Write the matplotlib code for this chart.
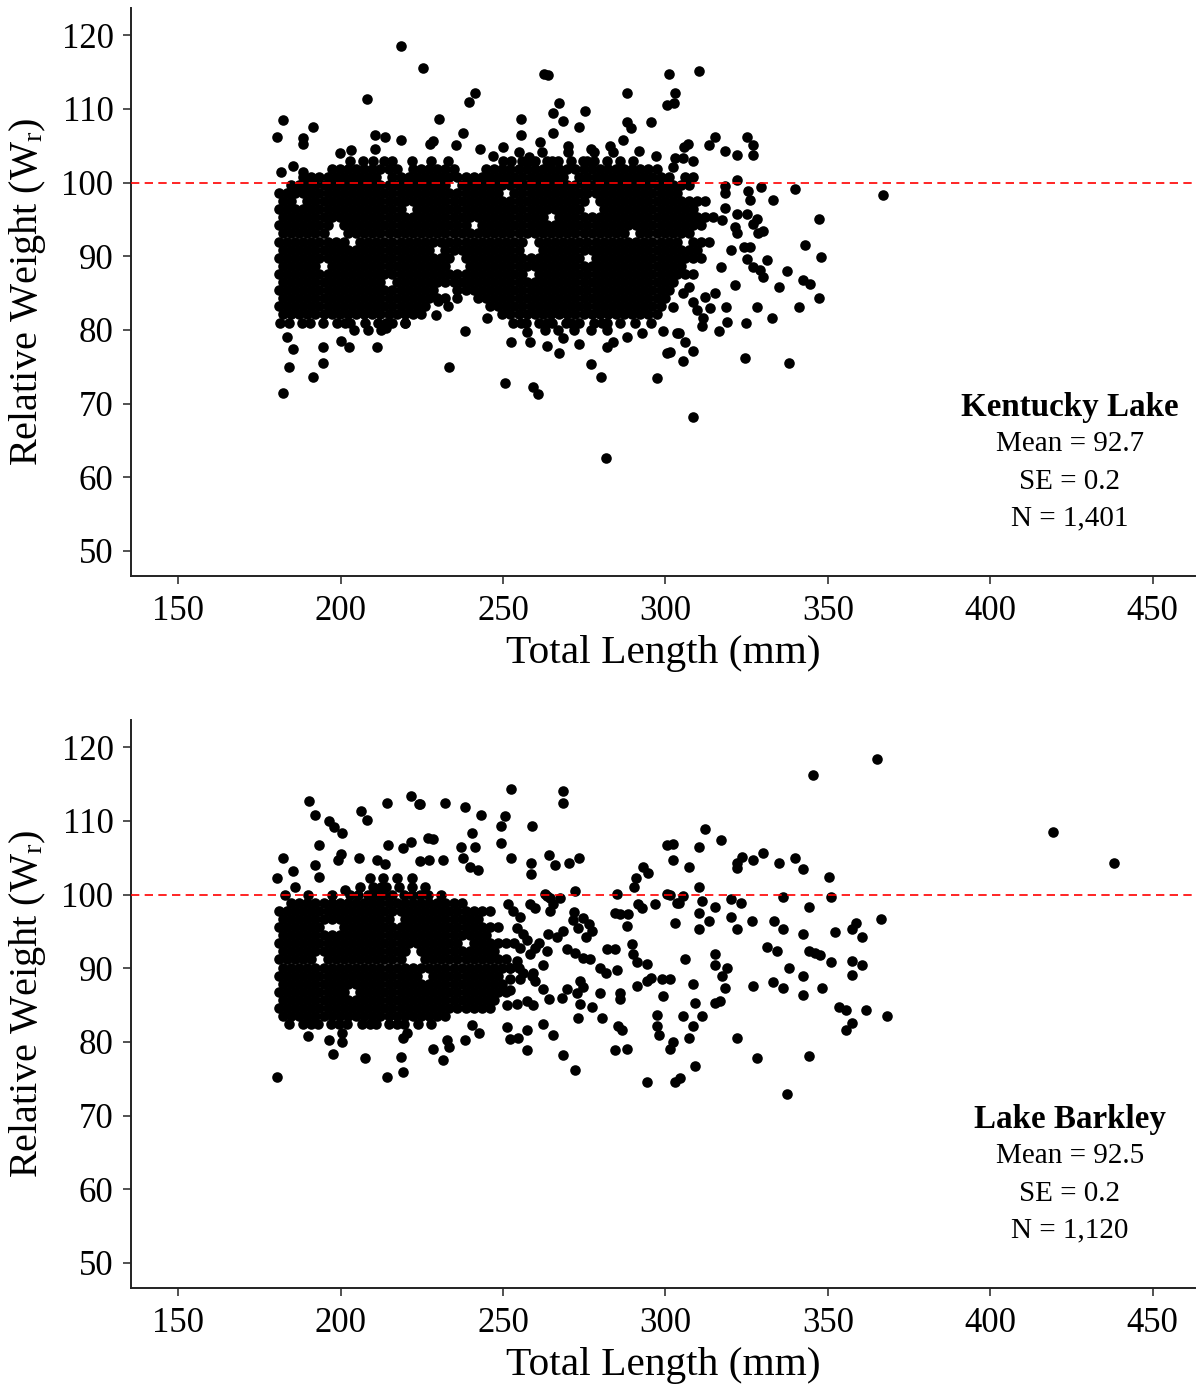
import matplotlib
matplotlib.use('Agg')
import matplotlib.pyplot as plt

plt.rcParams['font.family'] = 'Liberation Serif'
plt.rcParams['mathtext.fontset'] = 'custom'
plt.rcParams['mathtext.rm'] = 'Liberation Serif'
plt.rcParams['mathtext.it'] = 'Liberation Serif:italic'

# Data
x_ticks = [150, 200, 250, 300, 350, 400, 450]
y_ticks = [50, 60, 70, 80, 90, 100, 110, 120]

# --- Kentucky Lake: dense core, row by row (Wr level, lengths) ---
kl_row_wr = [80.0, 81.0, 82.1, 83.2, 84.3, 85.4, 86.5, 87.6, 88.7, 89.8, 90.9, 92.0,
             93.1, 94.2, 95.3, 96.4, 97.5, 98.6, 99.7, 100.8, 101.9, 103.0, 104.1]
kl_row_len = [
    [204, 208.5, 212.5, 263, 267, 272, 277, 282],
    [181.5, 184, 188, 190.5, 194.5, 199, 201.5, 203, 207.5, 211.5, 214, 216, 220, 253, 255.5, 257, 261, 263.5,
     265, 269.5, 271, 273.5, 278, 280.5, 282, 286, 290.5],
    [182.3, 184.8, 187.3, 189.8, 192.3, 194.8, 197.3, 199.8, 202.3, 204.8, 207.3, 209.8, 212.3, 214.8, 217.3,
     219.8, 222.3, 224.8, 249.8, 252.3, 254.8, 257.3, 259.8, 262.3, 264.8, 267.3, 269.8, 272.3, 274.8, 277.3,
     279.8, 282.3, 284.8, 287.3, 289.8, 292.3, 294.8, 297.3],
    [181, 183.5, 186, 188.5, 191, 193.5, 196, 198.5, 201, 203.5, 206, 208.5, 211, 213.5, 216, 218.5, 221, 223.5,
     226, 246, 248.5, 251, 253.5, 256, 258.5, 261, 263.5, 266, 268.5, 271, 273.5, 276, 278.5, 281, 283.5, 286,
     288.5, 291, 293.5, 296, 298.5],
    [182.3, 184.8, 187.3, 189.8, 192.3, 194.8, 197.3, 199.8, 202.3, 204.8, 207.3, 209.8, 212.3, 214.8, 217.3,
     219.8, 222.3, 224.8, 227.3, 229.8, 232.3, 242.3, 244.8, 247.3, 249.8, 252.3, 254.8, 257.3, 259.8, 262.3,
     264.8, 267.3, 269.8, 272.3, 274.8, 277.3, 279.8, 282.3, 284.8, 287.3, 289.8, 292.3, 294.8, 297.3, 299.8],
    [181, 183.5, 186, 188.5, 191, 193.5, 196, 198.5, 201, 203.5, 206, 208.5, 211, 213.5, 216, 218.5, 221, 223.5,
     226, 228.5, 236, 238.5, 241, 243.5, 246, 248.5, 251, 253.5, 256, 258.5, 261, 263.5, 266, 268.5, 271, 273.5,
     276, 278.5, 281, 283.5, 286, 288.5, 291, 293.5, 296, 298.5, 301],
    [182.3, 184.8, 187.3, 189.8, 192.3, 194.8, 197.3, 199.8, 202.3, 204.8, 207.3, 209.8, 212.3, 217.3, 219.8,
     222.3, 224.8, 227.3, 229.8, 232.3, 234.8, 237.3, 239.8, 242.3, 244.8, 247.3, 249.8, 252.3, 254.8, 257.3,
     259.8, 262.3, 264.8, 267.3, 269.8, 272.3, 274.8, 277.3, 279.8, 282.3, 284.8, 287.3, 289.8, 292.3, 294.8,
     297.3, 299.8, 302.3],
    [181, 183.5, 186, 188.5, 191, 193.5, 196, 198.5, 201, 203.5, 206, 208.5, 211, 213.5, 216, 218.5, 221, 223.5,
     226, 228.5, 231, 233.5, 236, 238.5, 241, 243.5, 246, 248.5, 251, 253.5, 256, 261, 263.5, 266, 268.5, 271,
     273.5, 276, 278.5, 281, 283.5, 286, 288.5, 291, 293.5, 296, 298.5, 301, 303.5, 306, 308.5],
    [182.3, 184.8, 187.3, 189.8, 192.3, 197.3, 199.8, 202.3, 204.8, 207.3, 209.8, 212.3, 214.8, 217.3, 219.8,
     222.3, 224.8, 227.3, 229.8, 232.3, 239.8, 242.3, 244.8, 247.3, 249.8, 252.3, 254.8, 257.3,
     259.8, 262.3, 264.8, 267.3, 269.8, 272.3, 274.8, 277.3, 279.8, 282.3, 284.8, 287.3, 289.8, 292.3, 294.8,
     297.3, 299.8, 302.3, 304.8],
    [181, 183.5, 186, 188.5, 191, 193.5, 196, 198.5, 201, 203.5, 206, 208.5, 211, 213.5, 216, 218.5, 221, 223.5,
     226, 228.5, 231, 233.5, 238.5, 241, 243.5, 246, 248.5, 251, 253.5, 256, 258.5, 261, 263.5, 266, 268.5,
     271, 273.5, 278.5, 281, 283.5, 286, 288.5, 291, 293.5, 296, 298.5, 301, 303.5, 306, 308.5, 311],
    [182.3, 184.8, 187.3, 189.8, 192.3, 194.8, 197.3, 199.8, 202.3, 204.8, 207.3, 209.8, 212.3, 214.8, 217.3,
     219.8, 222.3, 224.8, 227.3, 232.3, 234.8, 237.3, 239.8, 242.3, 244.8, 247.3, 249.8, 252.3, 254.8,
     262.3, 264.8, 267.3, 269.8, 272.3, 274.8, 277.3, 279.8, 282.3, 284.8, 287.3, 289.8, 292.3, 294.8,
     297.3, 299.8, 302.3, 304.8, 307.3, 309.8],
    [181, 183.5, 186, 188.5, 191, 193.5, 196, 198.5, 201, 206, 208.5, 211, 213.5, 216, 218.5, 221, 223.5, 226,
     228.5, 231, 233.5, 236, 238.5, 241, 243.5, 246, 248.5, 251, 253.5, 256, 261, 263.5, 266, 268.5, 271,
     273.5, 276, 278.5, 281, 283.5, 286, 288.5, 291, 293.5, 296, 298.5, 301, 303.5, 308.5, 311, 313.5],
    [182.3, 184.8, 187.3, 189.8, 192.3, 194.8, 202.3, 204.8, 207.3, 209.8, 212.3, 214.8, 217.3,
     219.8, 222.3, 224.8, 227.3, 229.8, 232.3, 234.8, 237.3, 239.8, 242.3, 244.8, 247.3, 249.8, 252.3, 254.8,
     257.3, 259.8, 262.3, 264.8, 267.3, 269.8, 272.3, 274.8, 277.3, 279.8, 282.3, 284.8, 287.3, 292.3, 294.8,
     297.3, 299.8, 302.3, 304.8, 307.3],
    [181, 183.5, 186, 188.5, 191, 193.5, 196, 201, 203.5, 206, 208.5, 211, 213.5, 216, 218.5, 221, 223.5,
     226, 228.5, 231, 233.5, 236, 238.5, 243.5, 246, 248.5, 251, 253.5, 256, 258.5, 261, 263.5, 266, 268.5, 271,
     273.5, 276, 278.5, 281, 283.5, 286, 288.5, 291, 293.5, 296, 298.5, 301, 303.5, 306, 308.5, 311],
    [182.3, 184.8, 187.3, 189.8, 192.3, 194.8, 197.3, 199.8, 202.3, 204.8, 207.3, 209.8, 212.3, 214.8, 217.3,
     219.8, 222.3, 224.8, 227.3, 229.8, 232.3, 234.8, 237.3, 239.8, 242.3, 244.8, 247.3, 249.8, 252.3, 254.8,
     257.3, 259.8, 262.3, 267.3, 269.8, 272.3, 274.8, 277.3, 279.8, 282.3, 284.8, 287.3, 289.8, 292.3, 294.8,
     297.3, 299.8, 302.3, 304.8, 307.3, 309.8, 312.3, 314.8],
    [181, 183.5, 186, 188.5, 191, 193.5, 196, 198.5, 201, 203.5, 206, 208.5, 211, 213.5, 216, 218.5, 223.5, 226,
     228.5, 231, 233.5, 236, 238.5, 241, 243.5, 246, 248.5, 251, 253.5, 256, 258.5, 261, 263.5, 266, 268.5, 271,
     273.5, 281, 283.5, 286, 288.5, 291, 293.5, 296, 298.5, 301, 303.5, 306, 308.5],
    [182.3, 184.8, 189.8, 192.3, 194.8, 197.3, 199.8, 202.3, 204.8, 207.3, 209.8, 212.3, 214.8, 217.3, 219.8,
     222.3, 224.8, 227.3, 229.8, 232.3, 234.8, 237.3, 239.8, 242.3, 244.8, 247.3, 249.8, 252.3, 254.8, 257.3,
     259.8, 262.3, 264.8, 267.3, 269.8, 272.3, 274.8, 279.8, 282.3, 284.8, 287.3, 289.8, 292.3, 294.8,
     297.3, 299.8, 302.3, 304.8, 307.3, 309.8, 312.3],
    [181, 183.5, 186, 188.5, 191, 193.5, 196, 198.5, 201, 203.5, 206, 208.5, 211, 213.5, 216, 218.5, 221, 223.5,
     226, 228.5, 231, 233.5, 236, 238.5, 241, 243.5, 246, 248.5, 253.5, 256, 258.5, 261, 263.5, 266, 268.5, 271,
     273.5, 276, 278.5, 281, 283.5, 286, 288.5, 291, 293.5, 296, 298.5, 301, 303.5],
    [184.8, 187.3, 189.8, 192.3, 194.8, 197.3, 199.8, 202.3, 204.8, 207.3, 209.8, 212.3, 214.8, 217.3, 219.8,
     222.3, 224.8, 227.3, 229.8, 232.3, 237.3, 239.8, 242.3, 244.8, 247.3, 249.8, 252.3, 254.8, 257.3, 259.8,
     262.3, 264.8, 267.3, 269.8, 272.3, 274.8, 277.3, 279.8, 282.3, 284.8, 287.3, 289.8, 292.3, 294.8, 297.3,
     299.8, 302.3, 304.8, 307.3],
    [188.5, 191, 193.5, 196, 198.5, 201, 203.5, 206, 208.5, 211, 216, 218.5, 221, 223.5, 226, 228.5, 231, 233.5,
     236, 238.5, 241, 243.5, 246, 248.5, 251, 253.5, 256, 258.5, 261, 263.5, 266, 268.5, 273.5, 276, 278.5, 281,
     283.5, 286, 288.5, 291, 293.5, 296, 298.5, 301],
    [197.3, 199.8, 202.3, 204.8, 207.3, 209.8, 212.3, 214.8, 217.3, 222.3, 224.8, 227.3, 229.8, 232.3, 234.8,
     244.8, 247.3, 249.8, 252.3, 254.8, 257.3, 259.8, 262.3, 264.8, 267.3, 269.8, 272.3, 274.8, 277.3, 279.8,
     282.3, 284.8, 287.3, 289.8, 292.3, 294.8, 297.3],
    [203, 207, 210, 213.5, 216, 222, 228, 233, 250, 252.5, 256, 258, 260, 263.5, 265, 267, 271, 274.5, 276, 278,
     282, 286, 290],
    [255, 262, 270, 278, 284],
]
# Kentucky Lake: scattered fish outside the core (length, Wr)
kl_scatter = [
    (218.6, 118.6), (225.4, 115.5), (208.2, 111.3), (182.3, 108.5), (180.5, 106.2), (191.5, 107.5),
    (188.5, 106.0), (188.5, 105.3), (181.7, 101.5), (185.4, 102.2), (188.5, 101.5), (183.5, 79.0),
    (185.4, 77.4), (184.2, 75.0), (182.3, 71.4), (191.5, 73.6), (194.6, 77.7), (194.6, 75.5),
    (200.2, 78.5), (202.6, 77.7), (211.2, 77.7), (210.6, 106.4), (213.7, 106.2), (218.6, 105.8),
    (203.2, 104.4), (199.8, 104.0), (210.6, 104.5), (241.4, 112.1), (239.5, 111.0), (230.3, 108.6),
    (262.6, 114.8), (263.8, 114.6), (267.2, 110.8), (265.4, 109.4), (268.5, 108.3), (275.2, 109.7),
    (273.4, 107.5), (255.5, 108.6), (255.5, 106.4), (265.4, 106.7), (288.2, 112.1), (301.1, 114.7),
    (302.9, 112.1), (300.5, 110.5), (288.2, 108.2), (289.4, 107.4), (295.5, 108.2), (228.5, 105.6),
    (227.5, 105.2), (237.7, 106.8), (235.5, 105.1), (238.3, 79.8), (233.4, 75.0), (250.6, 72.8),
    (259.2, 72.2), (260.8, 71.3), (277.1, 75.4), (280.2, 73.6), (297.4, 73.5), (300.5, 76.9),
    (281.7, 62.6), (252.5, 78.3), (257.4, 79.7), (258.3, 78.3), (263.5, 77.8), (267.2, 76.9),
    (268.5, 78.9), (273.4, 78.1), (282.0, 77.7), (283.8, 78.3), (288.2, 79.0), (292.8, 79.6),
    (295.5, 80.9), (299.2, 79.8), (303.5, 79.6), (245.0, 81.6), (310.3, 115.1), (302.6, 110.8),
    (315.2, 106.2), (313.4, 105.1), (318.3, 104.3), (322.0, 103.7), (325.1, 106.2), (326.9, 105.1),
    (326.9, 103.7), (306.9, 105.3), (305.7, 104.9), (322.0, 100.3), (318.3, 99.6), (318.3, 98.6),
    (329.4, 99.4), (333.1, 97.7), (339.8, 99.1), (366.9, 98.3), (325.4, 98.8), (326.0, 97.6),
    (347.2, 95.0), (342.9, 91.5), (347.8, 89.9), (331.2, 89.5), (337.4, 88.0), (342.3, 86.8),
    (344.6, 86.3), (347.2, 84.3), (341.1, 83.1), (332.8, 81.6), (328.2, 83.1), (324.8, 80.9),
    (324.5, 76.2), (338.0, 75.5), (308.5, 68.2), (321.4, 86.1), (334.9, 85.8), (330.0, 87.2),
    (329.1, 88.1), (326.9, 88.5), (325.1, 89.7), (324.2, 91.2), (326.0, 91.2), (330.0, 93.5),
    (328.5, 93.1), (326.9, 94.4), (328.2, 95.0), (325.1, 95.8), (322.0, 95.8), (321.4, 94.0),
    (322.0, 93.1), (320.2, 90.8), (317.4, 94.9), (318.3, 96.5), (317.1, 88.5), (315.2, 85.0),
    (312.2, 84.5), (313.7, 83.0), (318.6, 83.1), (318.9, 81.1), (316.5, 79.9), (311.2, 80.6),
    (311.5, 81.6), (309.7, 82.7), (308.5, 83.8), (307.2, 85.8), (305.4, 85.0), (304.2, 79.6),
    (306.0, 78.3), (308.5, 77.1), (305.4, 75.8), (301.4, 77.0), (302.3, 83.1), (303.0, 103.4),
    (305.4, 103.4), (308.5, 103.0), (302.3, 102.1), (306.0, 100.7), (308.5, 100.7), (243.0, 104.5),
    (247.0, 103.6), (250.0, 104.8), (258.0, 103.5), (261.5, 105.5), (270.0, 105.0), (277.0, 104.5),
    (283.0, 105.0), (287.0, 105.8), (292.0, 104.3), (297.0, 103.6), (230.0, 84.0), (233.0, 83.2),
    (236.0, 84.3), (214.0, 80.3), (220.0, 81.0), (229.5, 82.0),
]

# --- Lake Barkley: dense core ---
lb_row_wr = [82.4, 83.5, 84.6, 85.7, 86.8, 87.9, 89.0, 90.1, 91.2, 92.3, 93.4,
             94.5, 95.6, 96.7, 97.8, 98.9, 100.0, 101.1, 102.2]
lb_row_len = [
    [184, 188.5, 191, 193, 197, 199.5, 202, 206.5, 209, 211, 215, 217.5, 219.5, 224, 228],
    [182.3, 184.8, 187.3, 189.8, 192.3, 194.8, 197.3, 199.8, 202.3, 204.8, 207.3, 209.8, 212.3, 214.8, 217.3,
     219.8, 222.3, 224.8, 227.3, 229.8, 232.3],
    [181, 183.5, 186, 188.5, 191, 193.5, 196, 198.5, 201, 203.5, 206, 208.5, 211, 213.5, 216, 218.5, 221, 223.5,
     226, 228.5, 231, 233.5, 236, 238.5, 241, 243.5, 246],
    [182.3, 184.8, 187.3, 189.8, 192.3, 194.8, 197.3, 199.8, 202.3, 204.8, 207.3, 209.8, 212.3, 214.8, 217.3,
     219.8, 222.3, 224.8, 227.3, 229.8, 232.3, 234.8, 237.3, 239.8, 242.3, 244.8, 247.3],
    [181, 183.5, 186, 188.5, 191, 193.5, 196, 198.5, 201, 206, 208.5, 211, 213.5, 216, 218.5, 221, 223.5,
     226, 228.5, 231, 233.5, 236, 238.5, 241, 243.5, 246, 248.5, 251],
    [182.3, 184.8, 187.3, 189.8, 192.3, 194.8, 197.3, 199.8, 202.3, 204.8, 207.3, 209.8, 212.3, 214.8, 217.3,
     219.8, 222.3, 224.8, 227.3, 229.8, 232.3, 234.8, 237.3, 239.8, 242.3, 244.8, 247.3, 249.8],
    [181, 183.5, 186, 188.5, 191, 193.5, 196, 198.5, 201, 203.5, 206, 208.5, 211, 213.5, 216, 218.5, 221, 223.5,
     228.5, 231, 233.5, 236, 238.5, 241, 243.5, 246, 248.5],
    [182.3, 184.8, 187.3, 189.8, 192.3, 194.8, 197.3, 199.8, 202.3, 204.8, 207.3, 209.8, 212.3, 214.8, 217.3,
     219.8, 222.3, 224.8, 227.3, 229.8, 232.3, 234.8, 237.3, 239.8, 242.3, 244.8, 247.3, 249.8, 252.3, 254.8],
    [181, 183.5, 186, 188.5, 191, 196, 198.5, 201, 203.5, 206, 208.5, 211, 213.5, 216, 218.5,
     226, 228.5, 231, 233.5, 236, 238.5, 241, 243.5, 246, 248.5, 251],
    [182.3, 184.8, 187.3, 189.8, 192.3, 194.8, 197.3, 199.8, 202.3, 204.8, 207.3, 209.8, 212.3, 214.8, 217.3,
     219.8, 224.8, 227.3, 229.8, 232.3, 234.8, 237.3, 239.8, 242.3, 244.8, 247.3],
    [181, 183.5, 186, 188.5, 191, 193.5, 196, 198.5, 201, 203.5, 206, 208.5, 211, 213.5, 216, 218.5, 221, 223.5,
     226, 228.5, 231, 233.5, 236, 241, 243.5, 246, 248.5, 251, 253.5],
    [182.3, 184.8, 187.3, 189.8, 192.3, 194.8, 197.3, 199.8, 202.3, 204.8, 207.3, 209.8, 212.3, 214.8, 217.3,
     219.8, 222.3, 224.8, 227.3, 229.8, 232.3, 234.8, 237.3, 239.8, 242.3, 244.8],
    [181, 183.5, 186, 188.5, 191, 193.5, 201, 203.5, 206, 208.5, 211, 213.5, 216, 218.5, 221, 223.5,
     226, 228.5, 231, 233.5, 236, 238.5, 241, 243.5, 246, 248.5],
    [182.3, 184.8, 187.3, 189.8, 192.3, 194.8, 197.3, 199.8, 202.3, 204.8, 207.3, 209.8, 212.3, 214.8,
     219.8, 222.3, 224.8, 227.3, 229.8, 232.3, 234.8, 237.3, 239.8, 242.3],
    [181, 183.5, 186, 188.5, 191, 193.5, 196, 198.5, 201, 203.5, 206, 208.5, 211, 213.5, 216, 218.5, 221, 223.5,
     226, 228.5, 231, 233.5, 236, 238.5, 241, 243.5, 246],
    [184.8, 187.3, 189.8, 192.3, 194.8, 197.3, 199.8, 202.3, 204.8, 207.3, 209.8, 212.3, 214.8, 217.3,
     219.8, 222.3, 224.8, 227.3, 229.8, 232.3, 234.8, 237.3],
    [183, 190, 197.5, 203, 205.5, 208.5, 211, 213.5, 216, 219.5, 222, 224.5, 227, 231],
    [186, 206, 210, 212.5, 214, 218, 222, 226],
    [209, 213, 217.5, 222],
]
# Lake Barkley: scattered fish outside the core (length, Wr)
lb_scatter = [
    (190.3, 112.7), (192.2, 110.8), (196.5, 110.0), (198.0, 109.2), (200.5, 108.4), (193.4, 106.7),
    (182.3, 105.0), (185.4, 103.2), (180.5, 102.3), (192.2, 104.0), (193.4, 102.4), (200.2, 105.5),
    (199.2, 104.7), (206.3, 111.3), (208.2, 110.1), (214.3, 112.4), (221.7, 113.4), (224.2, 112.3),
    (214.6, 106.7), (219.2, 106.3), (221.7, 107.1), (205.7, 105.0), (211.2, 104.7), (213.7, 104.2),
    (201.4, 100.6), (190.0, 80.8), (196.5, 80.2), (200.5, 81.2), (200.5, 80.0), (197.7, 78.3),
    (207.5, 77.8), (180.5, 75.3), (214.3, 75.3), (219.2, 75.9), (218.6, 78.0), (220.5, 81.2),
    (219.2, 80.6), (226.9, 107.7), (252.5, 114.3), (268.5, 114.0), (268.5, 112.4), (232.2, 112.4),
    (238.3, 111.9), (243.2, 110.8), (224.5, 112.3), (250.6, 110.7), (249.4, 109.3), (258.9, 109.3),
    (240.5, 108.4), (228.5, 107.6), (237.1, 106.5), (241.4, 106.5), (249.4, 107.0), (252.5, 105.0),
    (258.6, 104.3), (258.6, 102.8), (264.2, 105.4), (266.0, 104.0), (270.2, 104.3), (273.4, 105.0),
    (300.5, 106.7), (302.3, 104.7), (293.1, 103.8), (294.6, 103.0), (291.1, 102.3), (290.4, 101.0),
    (272.2, 100.5), (224.5, 104.6), (227.2, 104.7), (231.5, 104.7), (237.7, 105.0), (239.8, 103.8),
    (242.3, 103.4), (272.0, 97.6), (274.5, 96.8), (276.5, 96.0), (277.5, 95.0), (275.5, 94.2),
    (273.0, 95.5), (271.5, 96.5), (263.8, 94.7), (266.6, 94.2), (268.5, 95.0), (261.2, 93.5),
    (260.0, 92.8), (263.5, 92.4), (269.6, 92.6), (272.2, 92.1), (274.6, 91.4), (276.8, 91.3),
    (282.0, 92.6), (284.5, 92.6), (289.7, 93.3), (290.0, 92.0), (291.2, 90.8), (285.1, 89.8),
    (279.8, 90.0), (281.8, 89.3), (294.2, 90.6), (295.7, 88.7), (299.1, 88.6), (291.2, 87.6),
    (294.3, 88.3), (299.2, 86.2), (273.7, 88.3), (274.6, 87.4), (272.8, 86.6), (273.7, 85.2),
    (277.4, 84.7), (279.8, 86.7), (286.0, 86.7), (286.0, 85.8), (280.5, 83.2), (273.1, 83.3),
    (269.6, 87.2), (268.2, 86.0), (262.3, 90.4), (259.8, 88.3), (262.3, 87.2), (264.2, 85.8),
    (262.3, 82.5), (265.4, 81.0), (268.5, 78.2), (272.2, 76.2), (284.5, 78.9), (288.2, 79.1),
    (285.4, 82.2), (286.6, 81.6), (297.4, 83.6), (297.4, 82.2), (298.0, 80.9), (302.3, 80.0),
    (301.4, 79.1), (294.2, 74.5), (302.9, 74.5), (254.6, 80.5), (257.4, 81.6), (252.2, 80.4),
    (251.2, 82.0), (257.4, 78.9), (242.6, 81.2), (238.3, 80.2), (232.8, 80.2), (233.4, 79.3),
    (228.5, 79.1), (231.5, 77.5), (240.5, 82.3), (251.2, 85.0), (254.3, 85.2), (259.2, 85.0),
    (252.2, 88.6), (255.2, 88.6), (258.9, 89.0), (263.5, 99.8), (265.4, 98.7), (264.5, 97.8),
    (284.5, 97.5), (286.0, 97.4), (288.5, 97.4), (288.2, 95.8), (291.5, 98.7), (292.8, 98.2),
    (285.0, 100.1), (296.8, 98.7), (300.5, 100.1), (303.5, 98.9), (302.9, 96.1), (251.5, 98.7),
    (253.0, 97.8), (255.2, 96.9), (254.3, 95.5), (256.2, 94.7), (257.4, 93.8), (255.2, 92.8),
    (258.3, 92.0), (258.3, 98.7), (259.8, 98.2), (262.9, 100.1), (264.5, 99.6), (267.5, 99.6),
    (252.2, 90.1), (254.3, 91.0), (256.2, 89.3), (252.2, 87.0), (257.4, 85.6), (259.2, 89.3),
    (365.1, 118.4), (345.4, 116.2), (312.2, 108.9), (317.1, 107.4), (310.3, 106.5), (302.3, 106.9),
    (307.2, 103.8), (322.0, 104.3), (323.5, 105.1), (322.0, 103.6), (326.9, 104.7), (330.0, 105.7),
    (334.9, 104.3), (339.8, 105.0), (342.3, 103.5), (350.3, 102.4), (310.3, 101.1), (305.4, 99.8),
    (304.2, 98.8), (301.4, 100.0), (311.2, 99.2), (315.2, 98.3), (320.2, 99.4), (323.2, 98.9),
    (336.2, 99.7), (344.2, 98.3), (350.9, 99.7), (310.3, 97.5), (313.4, 96.4), (310.3, 95.4),
    (320.2, 97.0), (322.0, 95.4), (326.6, 96.4), (333.4, 96.4), (336.2, 95.4), (342.3, 94.6),
    (352.2, 94.9), (357.4, 95.4), (358.6, 96.2), (360.5, 94.3), (366.3, 96.7), (331.2, 92.9),
    (334.3, 92.4), (306.0, 91.3), (315.2, 92.0), (315.2, 90.5), (318.9, 90.1), (338.0, 90.1),
    (344.2, 92.4), (346.0, 92.1), (347.5, 91.8), (350.9, 90.8), (357.4, 91.0), (360.5, 90.5),
    (357.4, 89.1), (317.4, 88.9), (318.3, 87.3), (301.4, 88.6), (308.5, 87.8), (326.9, 87.6),
    (333.1, 88.1), (336.2, 87.3), (342.3, 88.9), (342.3, 86.4), (348.2, 87.3), (309.1, 85.3),
    (315.2, 85.3), (316.8, 85.6), (305.4, 83.5), (311.2, 83.5), (308.5, 82.1), (307.2, 80.5),
    (353.4, 84.8), (355.5, 84.3), (357.4, 82.6), (355.5, 81.6), (361.7, 84.3), (368.2, 83.5),
    (322.0, 80.5), (328.2, 77.8), (344.2, 78.1), (309.1, 76.7), (304.5, 75.1), (337.4, 72.9),
    (419.2, 108.5), (438.0, 104.3),
]

panels = [
    ('Kentucky Lake', '92.7', '0.2', '1,401', kl_row_wr, kl_row_len, kl_scatter),
    ('Lake Barkley', '92.5', '0.2', '1,120', lb_row_wr, lb_row_len, lb_scatter),
]

fig = plt.figure(figsize=(11.96, 13.86), dpi=100)
ax_top = fig.add_axes([0.1095, 0.5844, 0.8896, 0.4098])
ax_bot = fig.add_axes([0.1095, 0.0707, 0.8896, 0.4098])

for ax, (lake, mean, se, n, row_wr, row_len, extra) in zip([ax_top, ax_bot], panels):
    xs, ys = [], []
    for wr, lengths in zip(row_wr, row_len):
        xs += lengths
        ys += [wr] * len(lengths)
    xs += [p[0] for p in extra]
    ys += [p[1] for p in extra]

    ax.scatter(xs, ys, s=58, color='black', linewidths=0, zorder=2)
    ax.axhline(100, color='#ff0000', lw=1.2, ls=(0, (5, 3.2)), zorder=3)

    ax.set_xlim(135.5, 463)
    ax.set_ylim(46.6, 123.7)
    ax.set_xticks(x_ticks)
    ax.set_yticks(y_ticks)
    ax.tick_params(labelsize=25, length=5.5, width=1.2, colors='#333333', labelcolor='black')
    ax.tick_params(axis='x', pad=8)
    ax.tick_params(axis='y', pad=7)
    for side in ['top', 'right']:
        ax.spines[side].set_visible(False)
    for side in ['left', 'bottom']:
        ax.spines[side].set_linewidth(1.4)
        ax.spines[side].set_color('#222222')

    ax.set_xlabel('Total Length (mm)', fontsize=29.8, labelpad=5)
    ax.set_ylabel('Relative Weight (W$_\\mathrm{r}$)', fontsize=29, labelpad=10)

    ax.text(0.8825, 0.296, lake, transform=ax.transAxes, ha='center', va='center',
            fontsize=23.8, fontweight='bold')
    ax.text(0.8825, 0.233, 'Mean = ' + mean, transform=ax.transAxes, ha='center', va='center', fontsize=21)
    ax.text(0.8825, 0.166, 'SE = ' + se, transform=ax.transAxes, ha='center', va='center', fontsize=21)
    ax.text(0.8825, 0.101, 'N = ' + n, transform=ax.transAxes, ha='center', va='center', fontsize=21)

fig.savefig('out.png', dpi=100)
